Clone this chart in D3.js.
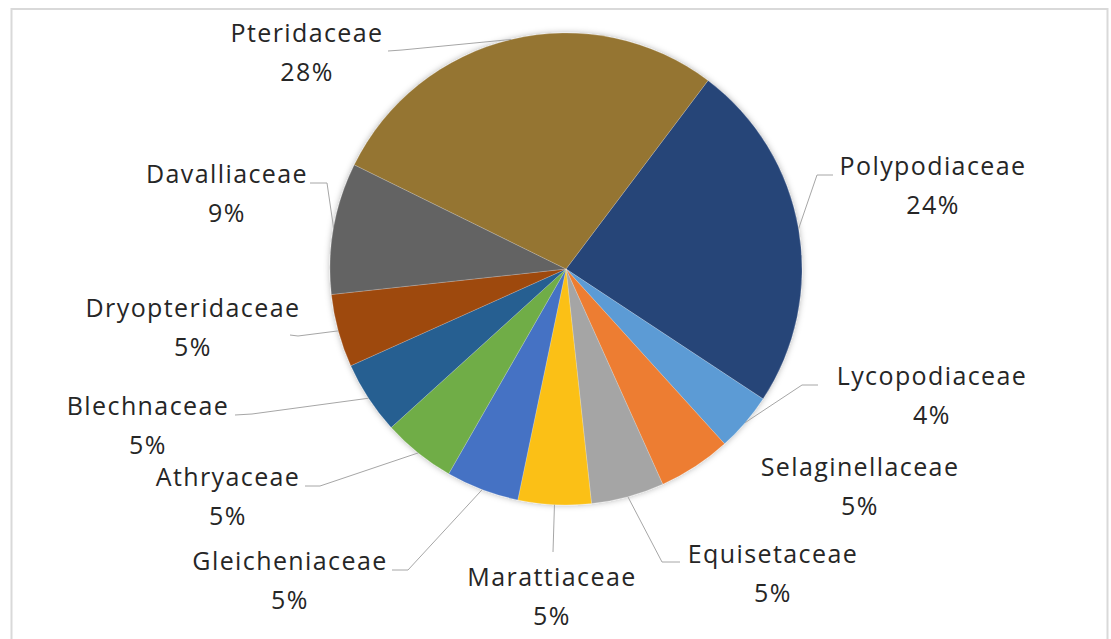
<!DOCTYPE html>
<html>
<head>
<meta charset="utf-8">
<script src="https://cdn.jsdelivr.net/npm/d3@7"></script>
<style>
  html, body { margin: 0; padding: 0; background: #fff; }
  #chart { width: 1111px; height: 639px; }
</style>
</head>
<body>
<div id="chart"></div>
<script>
// families, clockwise from the first slice
var families = ["Polypodiaceae", "Lycopodiaceae", "Selaginellaceae", "Equisetaceae", "Marattiaceae",
  "Gleicheniaceae", "Athryaceae", "Blechnaceae", "Dryopteridaceae", "Davalliaceae", "Pteridaceae"];
var percents = [24, 4, 5, 5, 5, 5, 5, 5, 5, 9, 28];
var colors = ["#264478", "#5b9bd5", "#ed7d31", "#a5a5a5", "#fbc012", "#4472c4",
  "#70ad47", "#255e91", "#9e480e", "#636363", "#957430"];

// label layout: x = centre of text, y = baseline of the name,
// leader = [label end, elbow] of the leader line (null when no line)
var labelPos = [
  {x: 933, y: 175, leader: [[833, 175], [817, 175]]},
  {x: 932, y: 385, leader: [[818, 385], [802, 385]]},
  {x: 860, y: 476, leader: null},
  {x: 773, y: 563, leader: [[680, 562], [662, 562]]},
  {x: 552, y: 586, leader: [[553, 552], [553, 552]]},
  {x: 290, y: 570, leader: [[392, 570], [408, 570]]},
  {x: 228, y: 486, leader: [[305, 486], [320, 486]]},
  {x: 148, y: 415, leader: [[235, 415], [252, 414]]},
  {x: 193, y: 317, leader: [[290, 335], [298, 336]]},
  {x: 227, y: 183, leader: [[310, 183], [327, 183]]},
  {x: 307, y: 42, leader: [[388, 51], [402, 50]]}
];

var width = 1111, height = 639;
var cx = 566, cy = 269, radius = 236;
var firstAngle = 37 * Math.PI / 180;

var svg = d3.select("#chart")
  .append("svg")
    .attr("width", width)
    .attr("height", height);

// soft shadow round the pie
var defs = svg.append("defs");
var filt = defs.append("filter").attr("id", "glow")
  .attr("x", "-10%").attr("y", "-10%").attr("width", "120%").attr("height", "120%");
filt.append("feDropShadow")
  .attr("dx", 0).attr("dy", 0).attr("stdDeviation", 3)
  .attr("flood-color", "#000").attr("flood-opacity", 0.3);

// chart frame
svg.append("rect")
  .attr("x", 11.5).attr("y", 9)
  .attr("width", 1096).attr("height", 650)
  .attr("fill", "none")
  .attr("stroke", "#d9d9d9")
  .attr("stroke-width", 2);

var data = families.map(function(f, i) {
  return {name: f, value: percents[i], color: colors[i], pos: labelPos[i]};
});

var pie = d3.pie()
  .sort(null)
  .value(function(d) { return d.value; })
  .startAngle(firstAngle)
  .endAngle(firstAngle + 2 * Math.PI);

var arcs = pie(data);
var total = d3.sum(percents);

var arc = d3.arc().innerRadius(0).outerRadius(radius);

var g = svg.append("g").attr("transform", "translate(" + cx + "," + cy + ")");

g.append("g")
  .attr("filter", "url(#glow)")
  .selectAll("path")
  .data(arcs)
  .enter()
  .append("path")
    .attr("d", arc)
    .attr("fill", function(d) { return d.data.color; })
    .attr("stroke", "#ffffff")
    .attr("stroke-opacity", 0.5)
    .attr("stroke-width", 0.4);

// leader lines: label -> elbow -> slice edge at the middle angle
var line = d3.line();
svg.append("g")
  .selectAll("path")
  .data(arcs.filter(function(d) { return d.data.pos.leader; }))
  .enter()
  .append("path")
    .attr("d", function(d) {
      var mid = (d.startAngle + d.endAngle) / 2;
      var edge = [cx + radius * Math.sin(mid), cy - radius * Math.cos(mid)];
      return line([d.data.pos.leader[0], d.data.pos.leader[1], edge]);
    })
    .attr("fill", "none")
    .attr("stroke", "#a6a6a6")
    .attr("stroke-width", 1);

// labels
var labels = svg.append("g")
  .selectAll("text")
  .data(arcs)
  .enter()
  .append("text")
    .attr("text-anchor", "middle")
    .attr("font-family", "Open Sans")
    .attr("font-size", "25px")
    .attr("letter-spacing", "1.4px")
    .attr("fill", "#262626");

labels.append("tspan")
  .attr("x", function(d) { return d.data.pos.x; })
  .attr("y", function(d) { return d.data.pos.y; })
  .text(function(d) { return d.data.name; });

labels.append("tspan")
  .attr("x", function(d) { return d.data.pos.x; })
  .attr("y", function(d) { return d.data.pos.y + 39; })
  .text(function(d) { return Math.round(d.data.value / total * 100) + "%"; });
</script>
</body>
</html>
